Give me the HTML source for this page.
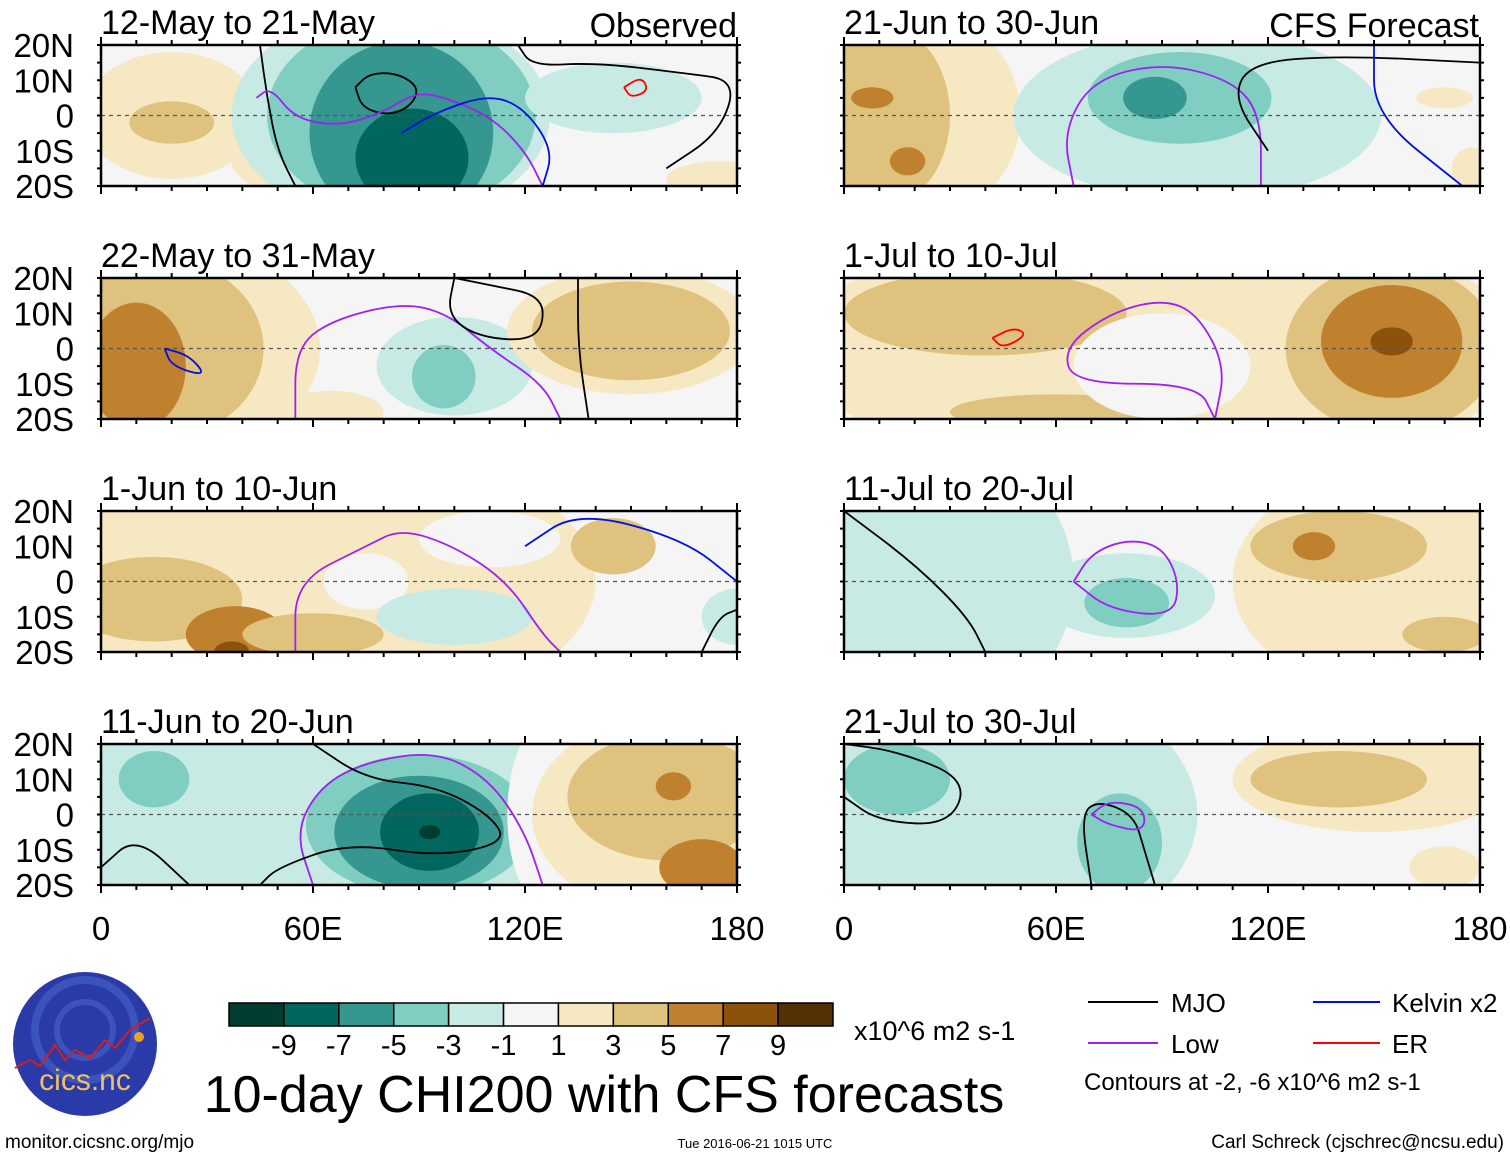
<!DOCTYPE html>
<html><head><meta charset="utf-8">
<style>
html,body{margin:0;padding:0;background:#fff;}
svg{display:block;font-family:"Liberation Sans",sans-serif;}
</style></head>
<body>
<svg id="chart" width="1510" height="1158" viewBox="0 0 1510 1158" xmlns="http://www.w3.org/2000/svg">
<g id="panels"></g>
<g id="colorbar"></g>
<g>
<circle cx="85" cy="1044" r="72" fill="#2a3aa8"/>
<circle cx="85" cy="1030" r="50" fill="none" stroke="#4a64c8" stroke-width="8" opacity="0.6"/>
<circle cx="85" cy="1030" r="28" fill="none" stroke="#4a64c8" stroke-width="6" opacity="0.6"/>
<polyline points="15,1068 30,1060 40,1066 55,1045 65,1060 75,1050 90,1058 105,1040 115,1048 130,1030 150,1018" fill="none" stroke="#d02020" stroke-width="2"/>
<circle cx="139" cy="1037" r="5" fill="#f0a020"/>
<text x="85" y="1090" font-size="30" fill="#f0c060" text-anchor="middle">cics.nc</text>
</g>
<text x="604" y="1112" font-size="52" text-anchor="middle">10-day CHI200 with CFS forecasts</text>
<text x="854" y="1040" font-size="27">x10^6 m2 s-1</text>
<text x="5" y="1148" font-size="19">monitor.cicsnc.org/mjo</text>
<text x="755" y="1148" font-size="13" text-anchor="middle">Tue 2016-06-21 1015 UTC</text>
<text x="1504" y="1148" font-size="19" text-anchor="end">Carl Schreck (cjschrec@ncsu.edu)</text>
<g>
<line x1="1088" y1="1002" x2="1158" y2="1002" stroke="#000" stroke-width="2"/>
<text x="1171" y="1012" font-size="26">MJO</text>
<line x1="1313" y1="1002" x2="1380" y2="1002" stroke="#0010e0" stroke-width="2"/>
<text x="1392" y="1012" font-size="26">Kelvin x2</text>
<line x1="1088" y1="1043" x2="1158" y2="1043" stroke="#a020f0" stroke-width="2"/>
<text x="1171" y="1053" font-size="26">Low</text>
<line x1="1313" y1="1043" x2="1380" y2="1043" stroke="#ff0000" stroke-width="2"/>
<text x="1392" y="1053" font-size="26">ER</text>
<text x="1084" y="1090" font-size="24">Contours at -2, -6 x10^6 m2 s-1</text>
</g>
</svg>
<script>
const levelColors = ["#003c30","#01665e","#35978f","#80cdc1","#c7eae5","#f5f5f5","#f6e8c3","#dfc27d","#bf812d","#8c510a","#543005"];
const colorbarLabels = ["-9","-7","-5","-3","-1","1","3","5","7","9"];
const panelTitles = ["12-May to 21-May","22-May to 31-May","1-Jun to 10-Jun","11-Jun to 20-Jun","21-Jun to 30-Jun","1-Jul to 10-Jul","11-Jul to 20-Jul","21-Jul to 30-Jul"];
const latTicks = ["20N","10N","0","10S","20S"];
const lonTicks = ["0","60E","120E","180"];
// blobs: [lon, lat, rxDeg, ryDeg, levelIndex] (5 = neutral)
const blobs1 = [[20,0,25,18,6],[20,-2,12,6,7],[45,-5,10,15,6],[60,15,12,10,5],[82,0,45,30,4],[85,0,38,28,3],[85,-5,26,26,2],[88,-12,16,14,1],[145,5,25,10,4],[175,-18,15,5,6]];
const blobs2 = [[22,0,40,30,6],[18,0,28,25,7],[10,-5,14,18,8],[100,-5,22,14,4],[97,-8,9,9,3],[150,5,35,18,6],[150,5,28,14,7],[65,-18,15,6,6]];
const blobs3 = [[60,0,80,40,6],[15,-5,25,12,7],[38,-15,14,8,8],[37,-20,5,3,9],[60,-15,20,6,7],[75,0,12,8,5],[100,-10,22,8,4],[110,12,20,8,5],[145,10,12,8,7],[180,-10,10,8,4]];
const blobs4 = [[60,0,70,40,4],[15,10,10,8,3],[90,-3,32,20,3],[90,-5,24,16,2],[93,-5,14,11,1],[93,-5,3,2,0],[125,0,10,25,5],[160,0,38,28,6],[160,5,28,18,7],[162,8,5,4,8],[170,-15,12,8,8]];
const blobs5 = [[20,0,30,30,6],[12,0,18,25,7],[8,5,6,3,8],[18,-13,5,4,8],[100,0,52,24,4],[95,5,26,13,3],[88,5,9,6,2],[170,5,8,3,6],[178,-15,6,6,6]];
const blobs6 = [[90,0,100,40,6],[40,10,40,12,7],[60,-18,30,5,7],[90,-5,25,15,5],[155,0,30,24,7],[155,2,20,16,8],[155,2,6,4,9]];
const blobs7 = [[25,0,40,40,4],[80,-4,25,12,4],[80,-6,12,7,3],[150,0,40,30,6],[140,10,25,10,7],[133,10,6,4,8],[170,-15,12,5,7]];
const blobs8 = [[40,0,60,40,4],[15,10,15,10,3],[78,-8,12,14,3],[150,10,40,15,6],[140,10,25,8,7],[170,-15,10,6,6]];
const allBlobs = [blobs1,blobs2,blobs3,blobs4,blobs5,blobs6,blobs7,blobs8];
// contour lines: [type, points as [lon,lat]]
const lines1 = [["mjo",[[45,20],[47,5],[50,-10],[55,-20]]],["mjo",[[72,8],[76,12],[84,12],[90,8],[88,3],[82,0],[74,2],[72,8]]],["low",[[44,5],[48,8],[55,-1],[68,-3],[80,1],[88,6],[95,6],[110,0],[120,-10],[125,-20]]],["kelvin",[[85,-5],[95,1],[110,6],[120,2],[128,-10],[125,-20]]],["mjo",[[118,20],[122,14],[140,15],[165,12],[180,10],[175,-5],[160,-15]]],["er",[[148,8],[153,11],[155,7],[150,5],[148,8]]]];
const lines2 = [["low",[[55,-20],[55,0],[65,8],[85,13],[98,10],[110,0],[125,-10],[130,-20]]],["kelvin",[[18,0],[25,-2],[30,-8],[20,-5],[18,0]]],["mjo",[[100,20],[110,18],[125,15],[125,5],[118,2],[105,4],[98,10],[100,20]]],["mjo",[[135,20],[135,0],[138,-20]]]];
const lines3 = [["low",[[55,-20],[55,0],[75,10],[85,15],[100,10],[115,0],[125,-15],[130,-20]]],["kelvin",[[120,10],[135,20],[165,12],[180,0]]],["mjo",[[170,-20],[175,-10],[180,-8]]]];
const lines4 = [["low",[[60,-20],[55,-5],[62,8],[75,15],[95,18],[110,10],[120,-5],[125,-20]]],["mjo",[[60,20],[75,10],[95,8],[110,0],[115,-8],[95,-12],[70,-8],[50,-15],[45,-20]]],["mjo",[[0,-15],[10,-6],[25,-20]]]];
const lines5 = [["low",[[65,-20],[62,-5],[70,10],[90,15],[110,10],[118,0],[118,-20]]],["mjo",[[120,-10],[110,5],[115,15],[140,17],[180,15]]],["kelvin",[[150,20],[150,0],[175,-20]]]];
const lines6 = [["low",[[105,-20],[100,-10],[65,-10],[62,0],[75,10],[90,14],[100,10],[108,-5],[105,-20]]],["er",[[42,3],[48,6],[52,4],[45,0],[42,3]]]];
const lines7 = [["low",[[65,0],[70,8],[80,12],[90,10],[95,0],[93,-10],[75,-8],[65,0]]],["mjo",[[0,20],[20,5],[35,-10],[40,-20]]]];
const lines8 = [["mjo",[[0,20],[15,18],[35,10],[30,-3],[10,-2],[0,5]]],["mjo",[[70,-20],[67,0],[72,4],[82,0],[85,-10],[88,-20]]],["low",[[70,0],[75,4],[85,2],[85,-5],[75,-3],[70,0]]]];
const allLines = [lines1,lines2,lines3,lines4,lines5,lines6,lines7,lines8];
const lineColors = {mjo:"#000",low:"#a020f0",kelvin:"#0010e0",er:"#ff0000"};

const NS = "http://www.w3.org/2000/svg";
const panelsG = document.getElementById("panels");
const colX = [101, 844], rowY = [45, 278, 511, 744], PW = 636, PH = 141;
function mk(tag, attrs, parent){const e=document.createElementNS(NS,tag);for(const k in attrs)e.setAttribute(k,attrs[k]);parent.appendChild(e);return e;}
function smooth(pts){let d="M"+pts[0][0]+","+pts[0][1];for(let i=1;i<pts.length;i++){const p0=pts[i-1],p1=pts[i];const mx=(p0[0]+p1[0])/2,my=(p0[1]+p1[1])/2;d+=" Q"+p0[0]+","+p0[1]+" "+mx+","+my;}d+=" L"+pts[pts.length-1][0]+","+pts[pts.length-1][1];return d;}

for(let p=0;p<8;p++){
  const col=p<4?0:1,row=p%4;
  const x0=colX[col],y0=rowY[row];
  const xs=lon=>x0+lon*PW/180, ys=lat=>y0+(20-lat)*PH/40;
  const g=mk("g",{},panelsG);
  
  
  const cp=mk("clipPath",{id:"cp"+p},g);
  mk("rect",{x:x0,y:y0,width:PW,height:PH},cp);
  const fg=mk("g",{"clip-path":"url(#cp"+p+")"},g);
  mk("rect",{x:x0,y:y0,width:PW,height:PH,fill:levelColors[5]},fg);
  allBlobs[p].forEach(b=>{
    const e=mk("ellipse",{cx:xs(b[0]),cy:ys(b[1]),rx:b[2]*PW/180,ry:b[3]*PH/40,fill:levelColors[b[4]]},fg);
    
    
  });
  mk("line",{x1:x0,y1:ys(0),x2:x0+PW,y2:ys(0),stroke:"#555","stroke-dasharray":"4,4","stroke-width":1.2},fg);
  allLines[p].forEach(l=>{
    const pts=l[1].map(q=>[xs(q[0]),ys(q[1])]);
    const e=mk("path",{d:smooth(pts),fill:"none",stroke:lineColors[l[0]],"stroke-width":1.8},fg);
    
    
  });
  mk("rect",{x:x0,y:y0,width:PW,height:PH,fill:"none",stroke:"#000","stroke-width":2.5},g);
  for(let i=0;i<=18;i++){const tx=xs(i*10),len=i%6==0?8:5;mk("line",{x1:tx,y1:y0-len,x2:tx,y2:y0,stroke:"#000","stroke-width":2},g);mk("line",{x1:tx,y1:y0+PH,x2:tx,y2:y0+PH+len,stroke:"#000","stroke-width":2},g);}
  for(let i=0;i<=8;i++){const ty=ys(20-i*5);mk("line",{x1:x0-4,y1:ty,x2:x0,y2:ty,stroke:"#000","stroke-width":2},g);mk("line",{x1:x0+PW,y1:ty,x2:x0+PW+4,y2:ty,stroke:"#000","stroke-width":2},g);}
  const t=mk("text",{x:x0,y:y0-11,"font-size":34},g);t.textContent=panelTitles[p];
  
  
  if(col==0){
    latTicks.forEach((lb,i)=>{const tt=mk("text",{x:74,y:ys(20-i*10)+12,"font-size":33,"text-anchor":"end"},g);tt.textContent=lb;
      
      });
  }
  if(row==3){
    lonTicks.forEach((lb,i)=>{const tt=mk("text",{x:xs(i*60),y:940,"font-size":33,"text-anchor":"middle"},g);tt.textContent=lb;
      
      });
  }
}
const lab1=document.createElementNS(NS,"text");lab1.setAttribute("x",737);lab1.setAttribute("y",37);lab1.setAttribute("font-size",34);lab1.setAttribute("text-anchor","end");lab1.textContent="Observed";


panelsG.appendChild(lab1);
const lab2=document.createElementNS(NS,"text");lab2.setAttribute("x",1479);lab2.setAttribute("y",37);lab2.setAttribute("font-size",34);lab2.setAttribute("text-anchor","end");lab2.textContent="CFS Forecast";


panelsG.appendChild(lab2);

const cb=document.getElementById("colorbar");
const cbx=229,cbw=604/11;
levelColors.forEach((c,i)=>{const r=mk("rect",{x:cbx+i*cbw,y:1003,width:cbw,height:23,fill:c,stroke:"#000","stroke-width":1.5},cb);
  
  });
colorbarLabels.forEach((lb,i)=>{const t=mk("text",{x:cbx+(i+1)*cbw,y:1055,"font-size":29,"text-anchor":"middle"},cb);t.textContent=lb;
  
  });
</script>
</body></html>
